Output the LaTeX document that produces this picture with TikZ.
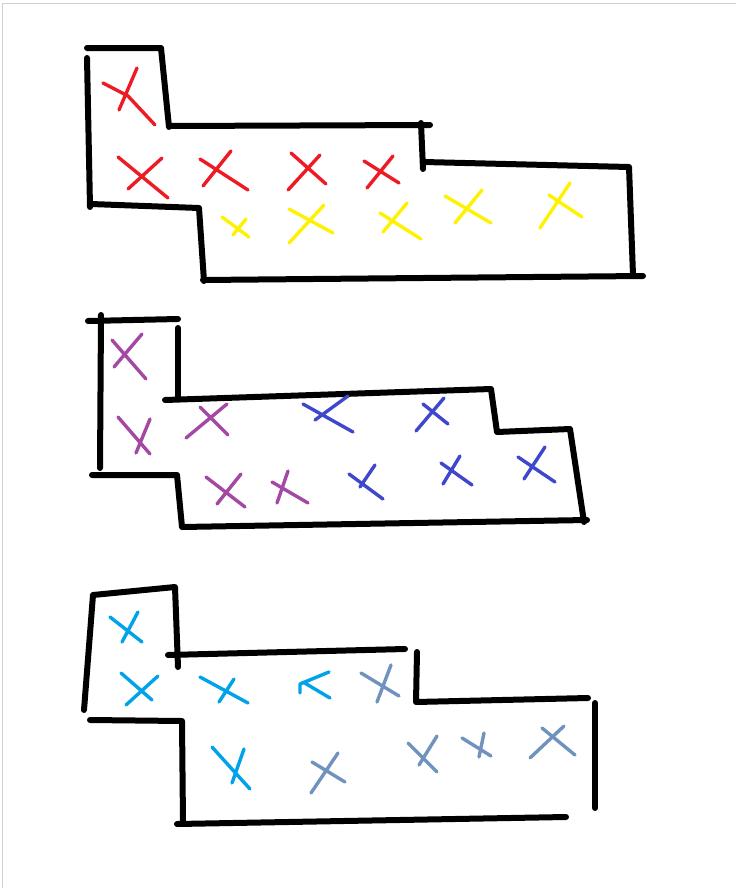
\documentclass[tikz,border=0pt]{standalone}
\usepackage{xcolor}
\usepackage{tikz}
\definecolor{paintred}{RGB}{237,28,36}
\definecolor{paintyellow}{RGB}{255,242,0}
\definecolor{paintpurple}{RGB}{163,73,164}
\definecolor{paintblue}{RGB}{63,72,204}
\definecolor{paintcyan}{RGB}{0,162,232}
\definecolor{paintgrey}{RGB}{112,146,190}
% a hand-drawn cross: colour, first stroke, second stroke
\newcommand{\xmark}[5]{\draw[cross, #1] #2 -- #3 #4 -- #5;}

\begin{document}
\begin{tikzpicture}[
    x=0.05cm,
    y=-0.05cm,
    wall/.style={draw=black, line width=0.3cm, line cap=round, line join=round},
    cross/.style={line width=0.17cm, line cap=round, line join=round},
    frame/.style={draw=black!18, line width=0.05cm}
]
\useasboundingbox (0,0) rectangle (736,888);
\draw[frame] (2,888) -- (2,3) -- (736,3);

% top room
\draw[wall] (87,48) -- (161,48) -- (169,127);
\draw[wall] (87,58) -- (90,207);
\draw[wall] (169,126) -- (430,125);
\draw[wall] (421,123) -- (423,169);
\draw[wall] (424,162) -- (629,167) -- (633,275);
\draw[wall] (91,204) -- (199,208) -- (204,281);
\draw[wall] (203,280) -- (643,276);

\xmark{paintred}{(103,83)}{(128,96) -- (155,125)}{(137,68)}{(119,110)}
\xmark{paintred}{(118,157)}{(168,198)}{(162,158)}{(128,189)}
\xmark{paintred}{(200,159)}{(248,190)}{(231,151)}{(203,186)}
\xmark{paintred}{(291,153)}{(326,184)}{(320,155)}{(288,190)}
\xmark{paintred}{(364,161)}{(399,183)}{(393,156)}{(367,188)}
\xmark{paintyellow}{(222,217)}{(249,237)}{(246,219)}{(233,235)}
\xmark{paintyellow}{(289,209)}{(333,233)}{(324,205)}{(289,243)}
\xmark{paintyellow}{(380,213)}{(421,239)}{(407,203)}{(383,232)}
\xmark{paintyellow}{(445,196)}{(491,223)}{(482,190)}{(455,223)}
\xmark{paintyellow}{(549,195)}{(582,217)}{(570,183)}{(540,228)}

% middle room
\draw[wall] (88,321) -- (178,319);
\draw[wall] (101,315) -- (100,468);
\draw[wall] (178,328) -- (178,398);
\draw[wall] (165,400) -- (491,389) -- (497,432) -- (570,429) -- (584,522);
\draw[wall] (92,475) -- (177,475) -- (182,527) -- (587,520);

\xmark{paintpurple}{(112,340)}{(146,379)}{(142,334)}{(114,367)}
\xmark{paintpurple}{(118,417)}{(150,454)}{(150,419)}{(136,453)}
\xmark{paintpurple}{(227,404)}{(186,438)}{(200,407)}{(228,435)}
\xmark{paintpurple}{(206,477)}{(245,507)}{(241,474)}{(217,504)}
\xmark{paintpurple}{(272,482)}{(308,503)}{(288,471)}{(277,503)}
\xmark{paintblue}{(303,404)}{(353,432)}{(348,396)}{(315,420)}
\xmark{paintblue}{(423,404)}{(448,424)}{(444,398)}{(416,431)}
\xmark{paintblue}{(349,474)}{(383,499)}{(375,465)}{(360,487)}
\xmark{paintblue}{(441,463)}{(472,485)}{(460,456)}{(443,484)}
\xmark{paintblue}{(518,457)}{(555,482)}{(545,447)}{(524,479)}

% bottom room
\draw[wall] (84,710) -- (93,595) -- (175,587) -- (178,667);
\draw[wall] (168,655) -- (405,649);
\draw[wall] (417,652) -- (416,702) -- (588,698);
\draw[wall] (595,703) -- (595,808);
\draw[wall] (90,720) -- (182,721) -- (183,823);
\draw[wall] (177,824) -- (566,817);

\xmark{paintcyan}{(110,617)}{(142,642)}{(138,612)}{(122,642)}
\xmark{paintcyan}{(121,673)}{(152,700)}{(158,676)}{(126,705)}
\xmark{paintcyan}{(200,677)}{(248,703)}{(234,679)}{(219,702)}
\xmark{paintcyan}{(329,672)}{(300,684) -- (300,693)}{(303,682)}{(330,698)}
\xmark{paintgrey}{(361,673)}{(399,696)}{(391,665)}{(377,702)}
\xmark{paintcyan}{(212,747)}{(250,789)}{(244,749)}{(232,783)}
\xmark{paintgrey}{(312,762)}{(345,782)}{(338,753)}{(311,793)}
\xmark{paintgrey}{(408,743)}{(437,772)}{(437,736)}{(419,765)}
\xmark{paintgrey}{(462,738)}{(491,756)}{(484,733)}{(479,757)}
\xmark{paintgrey}{(542,728)}{(575,755)}{(564,726)}{(530,758)}
\end{tikzpicture}
\end{document}
